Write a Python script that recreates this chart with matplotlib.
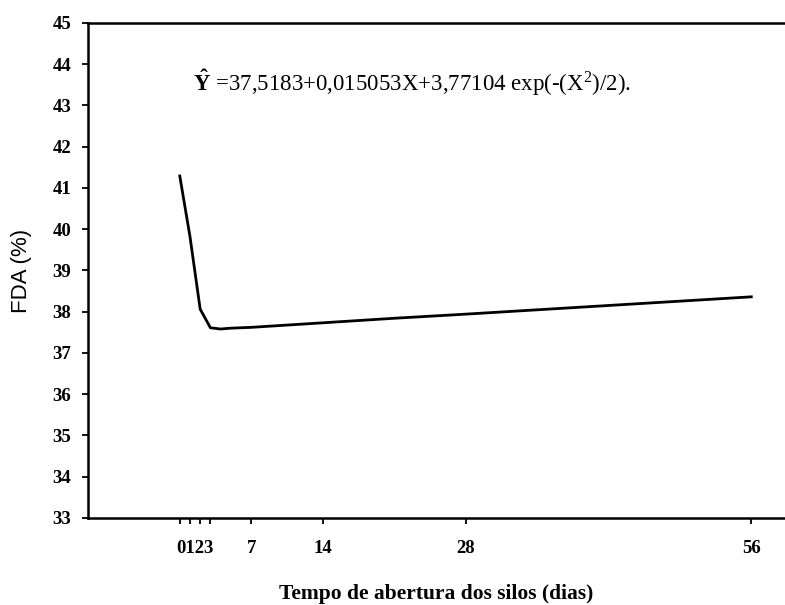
import numpy as np
import matplotlib.pyplot as plt

# Dias de abertura dos silos e FDA (%)
dias = [0, 1, 2, 3, 4, 5, 7, 14, 21, 28, 42, 56]
fda = [41.29, 39.82, 38.06, 37.61, 37.58, 37.60, 37.62, 37.73, 37.84, 37.94, 38.15, 38.36]

xticks = [0, 1, 2, 3, 7, 14, 28, 56]
xticklabels = ["", "", "", "", "7", "14", "28", "56"]
yticks = list(range(33, 46))

plt.rcParams['font.family'] = ['Liberation Serif', 'DejaVu Serif']
plt.rcParams['mathtext.fontset'] = 'custom'
plt.rcParams['mathtext.rm'] = 'Liberation Serif'
plt.rcParams['mathtext.it'] = 'Liberation Serif:italic'
plt.rcParams['mathtext.bf'] = 'Liberation Serif:bold'

fig = plt.figure(figsize=(7.85, 6.05), dpi=100)
ax = fig.add_axes([0.112, 0.144, 0.888, 0.818])

ax.plot(dias, fda, color='black', linewidth=2.0, solid_joinstyle='round')

ax.set_xlim(-9.0, 59.3)
ax.set_ylim(33, 45)
ax.set_xticks(xticks)
ax.set_xticklabels(xticklabels)
ax.set_yticks(yticks)
ax.tick_params(axis='both', direction='out', length=4, width=1.3, labelsize=13.5)
ax.tick_params(axis='y', pad=8)
ax.tick_params(axis='x', pad=12)
for lab in ax.get_yticklabels() + ax.get_xticklabels():
    lab.set_fontweight('bold')

# rotulo agrupado dos primeiros dias
ax.annotate("0123", xy=(1.5, 0), xycoords=ax.get_xaxis_transform(),
            xytext=(0, -16), textcoords='offset points',
            ha='center', va='top', fontsize=13.5, fontweight='bold')

ax.spines['right'].set_visible(False)
for s in ['left', 'top', 'bottom']:
    ax.spines[s].set_linewidth(1.8)

ax.text(1.3, 43.55, r"$\mathbf{\hat{Y}}$ =37,5183+0,015053X+3,77104 exp(-(X$^2$)/2).",
        fontsize=16.5, ha='left', va='center')

fig.text(0.027, 0.552, "FDA (%)", fontsize=16, family='Liberation Sans',
         rotation=90, ha='center', va='center')
fig.text(0.556, 0.019, "Tempo de abertura dos silos (dias)", fontsize=15.5,
         fontweight='bold', ha='center', va='center')

fig.savefig("out.png", dpi=100)
